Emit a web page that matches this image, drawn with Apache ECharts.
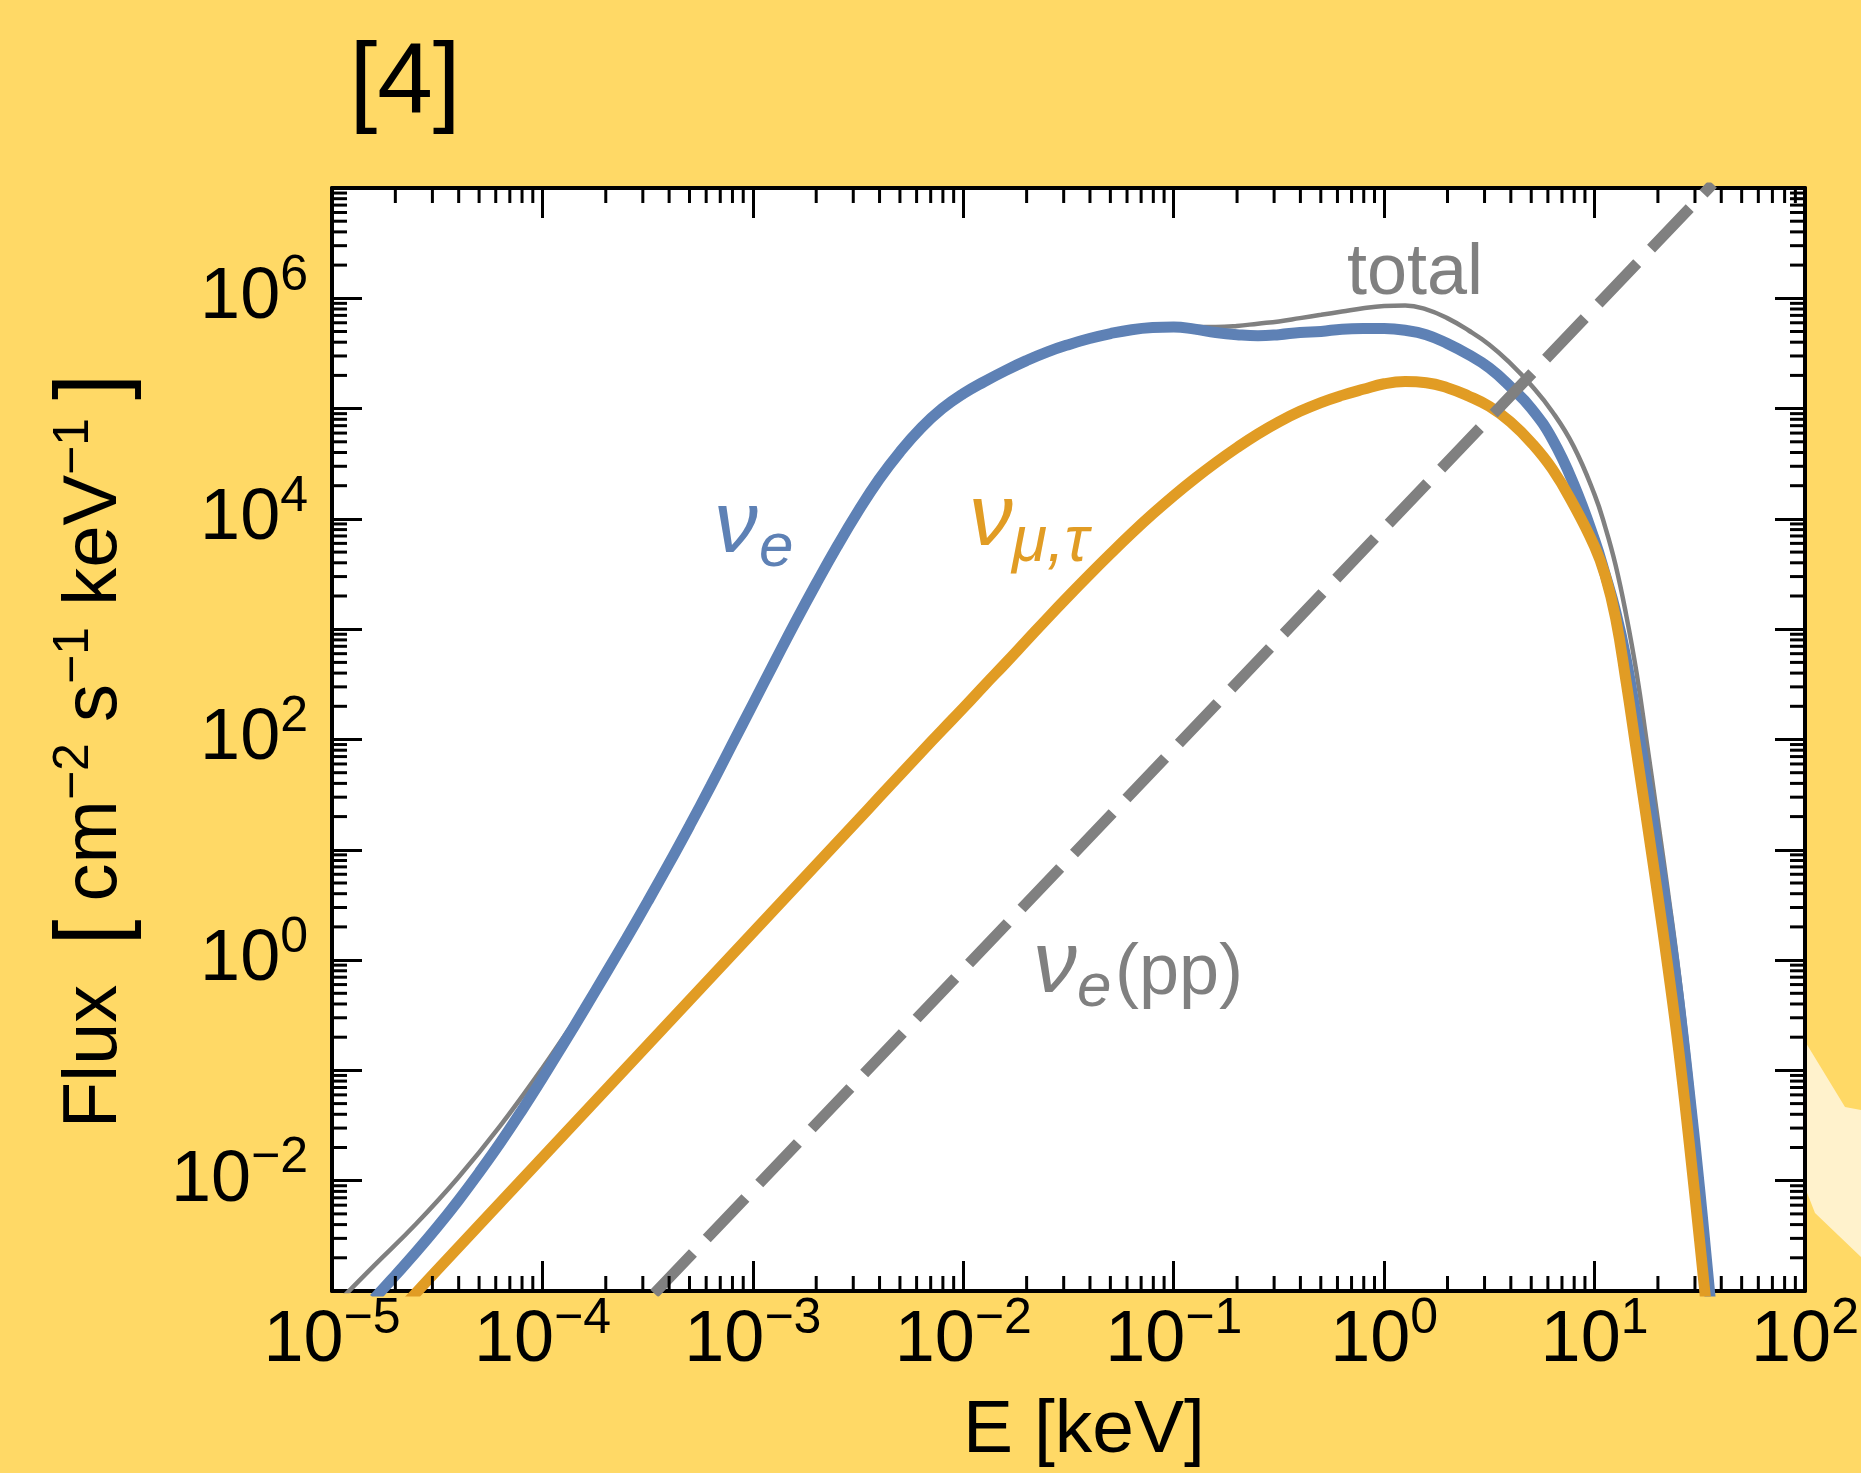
<!DOCTYPE html>
<html>
<head>
<meta charset="utf-8">
<script src="https://cdn.jsdelivr.net/npm/echarts@6/dist/echarts.min.js"></script>
<style>
html,body{margin:0;padding:0;background:#FFD966;}
#chart{width:1861px;height:1473px;}
</style>
</head>
<body>
<div id="chart"></div>
<script>
// ---- axis ranges ----
const E_MIN = 1e-5, E_MAX = 1e2;
const F_MIN = 1e-3, F_MAX = 1e7;

// ---- nu_e (blue) : E [keV], flux [cm^-2 s^-1 keV^-1] ----
const nueE = [1.585e-5,1.995e-5,2.512e-5,3.162e-5,3.981e-5,5.012e-5,6.310e-5,7.943e-5,1.0e-4,1.259e-4,1.585e-4,1.995e-4,2.512e-4,3.162e-4,3.981e-4,5.012e-4,6.310e-4,7.943e-4,1.0e-3,1.259e-3,1.585e-3,1.995e-3,2.512e-3,3.162e-3,3.981e-3,5.012e-3,6.310e-3,7.943e-3,1.0e-2,1.259e-2,1.585e-2,1.995e-2,2.512e-2,3.162e-2,3.981e-2,5.012e-2,6.310e-2,7.943e-2,0.1,0.1259,0.1585,0.1995,0.2512,0.3162,0.3981,0.5012,0.6310,0.7943,1.0,1.259,1.585,1.995,2.512,3.162,3.981,5.012,6.310,7.943,10,11.22,12.59,14.13,15.85,17.78,19.95,22.39,25.12,28.18,31.62,35.48];
const nueF = [8.51e-4,1.38e-3,2.26e-3,3.80e-3,6.61e-3,1.19e-2,2.21e-2,4.27e-2,8.51e-2,0.174,0.359,0.750,1.58,3.39,7.41,16.6,38.0,89.1,209,490,1140,2570,5620,1.17e4,2.29e4,4.07e4,6.68e4,1.0e5,1.365e5,1.758e5,2.213e5,2.723e5,3.27e5,3.80e5,4.32e5,4.79e5,5.19e5,5.43e5,5.50e5,5.25e5,4.90e5,4.68e5,4.57e5,4.68e5,4.90e5,5.01e5,5.25e5,5.31e5,5.31e5,5.13e5,4.68e5,3.89e5,3.09e5,2.34e5,1.58e5,1.0e5,5.25e4,2.09e4,6460,3160,1450,537,148,38.9,9.77,2.29,0.437,6.46e-2,8.13e-3,8.32e-4];

// ---- nu_mu,tau (orange) ----
const numtE = [2.239e-5,3.162e-5,1.0e-4,3.162e-4,1.0e-3,3.162e-3,3.981e-3,5.012e-3,6.310e-3,7.943e-3,1.0e-2,1.259e-2,1.585e-2,1.995e-2,2.512e-2,3.162e-2,3.981e-2,5.012e-2,6.310e-2,7.943e-2,0.1,0.1259,0.1585,0.1995,0.2512,0.3162,0.3981,0.5012,0.6310,0.7943,1.0,1.259,1.585,1.995,2.512,3.162,3.981,5.012,6.310,7.943,10,11.22,12.59,14.13,15.85,17.78,19.95,22.39,25.12,28.18,31.62,33.88];
const numtF = [7.59e-4,1.55e-3,1.62e-2,0.170,1.78,18.6,29.9,47.9,76.7,122,193,309,490,785,1259,1995,3126,4842,7413,1.109e4,1.622e4,2.317e4,3.236e4,4.416e4,5.888e4,7.586e4,9.441e4,1.135e5,1.318e5,1.496e5,1.679e5,1.758e5,1.718e5,1.549e5,1.303e5,1.047e5,7.586e4,4.898e4,2.818e4,1.349e4,5623,3090,1259,331,75.9,17.4,3.89,0.813,0.151,2.19e-2,2.75e-3,7.59e-4];

// ---- total (thin gray) ----
const totE = [1.122e-5,1.585e-5,2.512e-5,3.981e-5,6.310e-5,1.0e-4,1.259e-4,1.585e-4,1.995e-4,2.512e-4,3.981e-4,6.310e-4,1.0e-3,1.585e-3,2.512e-3,3.981e-3,6.310e-3,1.0e-2,1.585e-2,2.512e-2,3.981e-2,6.310e-2,0.1,0.1259,0.1585,0.1995,0.2512,0.3162,0.3981,0.5012,0.6310,0.7943,1.0,1.259,1.585,1.995,2.512,3.162,3.981,5.012,6.310,7.943,10,11.22,12.59,14.13,15.85,17.78,19.95,22.39,25.12,28.18,31.62,36.31];
const totF = [8.71e-4,1.70e-3,4.07e-3,1.07e-2,3.16e-2,0.105,0.200,0.380,0.776,1.62,7.59,39.8,214,1170,5750,2.34e4,6.83e4,1.40e5,2.26e5,3.35e5,4.37e5,5.30e5,5.62e5,5.50e5,5.50e5,5.62e5,5.89e5,6.17e5,6.61e5,7.08e5,7.59e5,8.13e5,8.51e5,8.61e5,7.94e5,6.61e5,5.13e5,3.80e5,2.57e5,1.62e5,9.33e4,4.57e4,1.66e4,8510,3800,1349,398,89.1,19.1,3.98,0.759,0.110,1.26e-2,7.08e-4];

// ---- nu_e (pp) dashed gray ----
const ppE = [3.4e-4,1e-3,1e-2,0.1,1,10,36.5];
const ppF = [9.5e-4,8.2e-3,0.82,82,8.2e3,8.2e5,1.09e7];

const pair = (xs, ys) => xs.map((x, i) => [x, ys[i]]);

// minor tick values (axis decoration, 2..9 per decade)
const xMinor = [], yMinor = [];
for (let p = -5; p < 2; p++) for (let k = 2; k <= 9; k++) xMinor.push(k * Math.pow(10, p));
for (let p = -3; p < 7; p++) for (let k = 2; k <= 9; k++) yMinor.push(k * Math.pow(10, p));

const FONT = '"Liberation Sans", Arial, Helvetica, sans-serif';
const BLUE = '#5E81B5', ORANGE = '#E19C24', GRAY = '#808080';

function supLabel(v, skipOdd) {
  const e = Math.round(Math.log10(v));
  if (skipOdd && Math.abs(e) % 2 === 1) return '';
  const s = e < 0 ? '\u2212' + (-e) : String(e);
  return '{b|10}{s|' + s + '}';
}
const labelRich = {
  b: { fontSize: 72, fontFamily: FONT, color: '#000' },
  s: { fontSize: 50, fontFamily: FONT, color: '#000', padding: [0, 0, 44, 0] }
};

function axisCommon(extra) {
  return Object.assign({
    type: 'log', logBase: 10, interval: 1,
    splitLine: { show: false }, minorTick: { show: false }, minorSplitLine: { show: false },
    axisLine: { show: true, onZero: false, lineStyle: { color: '#000', width: 4 } },
    axisTick: { show: true, inside: true, length: 30, lineStyle: { color: '#000', width: 3 } }
  }, extra);
}

function tickItem(a, b) {
  return { type: 'line', shape: { x1: a[0], y1: a[1], x2: b[0], y2: b[1] }, style: { stroke: '#000', lineWidth: 3 } };
}

const chart = echarts.init(document.getElementById('chart'), null, { renderer: 'canvas' });

const option = {
  backgroundColor: '#FFD966',
  animation: false,
  grid: { left: 332, right: 56, top: 188, bottom: 182, containLabel: false, outerBoundsMode: 'none',
          show: true, backgroundColor: '#FFFFFF', borderWidth: 0 },
  xAxis: [
    axisCommon({ min: E_MIN, max: E_MAX, splitNumber: 7, position: 'bottom',
      axisLabel: { show: true, interval: 0, margin: 50, verticalAlign: 'middle', formatter: v => supLabel(v, false), rich: labelRich, hideOverlap: false } }),
    axisCommon({ min: E_MIN, max: E_MAX, splitNumber: 7, position: 'top', axisLabel: { show: false } })
  ],
  yAxis: [
    axisCommon({ min: F_MIN, max: F_MAX, splitNumber: 10, position: 'left',
      axisLabel: { show: true, interval: 0, margin: 24, formatter: v => supLabel(v, true), rich: labelRich, hideOverlap: false } }),
    axisCommon({ min: F_MIN, max: F_MAX, splitNumber: 10, position: 'right', axisLabel: { show: false } })
  ],
  series: [
    { name: 'total', type: 'line', data: pair(totE, totF), showSymbol: false, symbol: 'none', smooth: 0.45, z: 2,
      lineStyle: { color: GRAY, width: 4.5 } },
    { name: 'nu_e', type: 'line', data: pair(nueE, nueF), showSymbol: false, symbol: 'none', smooth: 0.45, z: 3,
      lineStyle: { color: BLUE, width: 11 } },
    { name: 'nu_mu_tau', type: 'line', data: pair(numtE, numtF), showSymbol: false, symbol: 'none', smooth: 0.45, z: 4,
      lineStyle: { color: ORANGE, width: 11 } },
    { name: 'nu_e_pp', type: 'line', data: pair(ppE, ppF), showSymbol: false, symbol: 'none', z: 5,
      lineStyle: { color: GRAY, width: 11, type: [56, 20], cap: 'butt' } },
    { name: 'xminor', type: 'custom', coordinateSystem: 'cartesian2d', silent: true, clip: false, z: 6,
      data: xMinor.map(v => [v, F_MIN]),
      renderItem: (p, api) => {
        const v = api.value(0);
        const b = api.coord([v, F_MIN]), t = api.coord([v, F_MAX]);
        return { type: 'group', children: [
          tickItem(b, [b[0], b[1] - 15]), tickItem(t, [t[0], t[1] + 15]) ] };
      } },
    { name: 'yminor', type: 'custom', coordinateSystem: 'cartesian2d', silent: true, clip: false, z: 6,
      data: yMinor.map(v => [E_MIN, v]),
      renderItem: (p, api) => {
        const v = api.value(1);
        const l = api.coord([E_MIN, v]), r = api.coord([E_MAX, v]);
        return { type: 'group', children: [
          tickItem(l, [l[0] + 15, l[1]]), tickItem(r, [r[0] - 15, r[1]]) ] };
      } }
  ],
  graphic: [
    { type: 'polygon', z: -10, silent: true,
      shape: { points: [[1806,1043],[1845,1107],[1861,1110],[1861,1257],[1815,1213],[1806,1190]] },
      style: { fill: '#FFF2CC' } },
    { type: 'text', z: 100, x: 405, y: 85,
      style: { text: '[4]', fontSize: 100, fontFamily: FONT, fill: '#000', align: 'center', verticalAlign: 'middle' } },
    { type: 'text', z: 100, x: 1084, y: 1431,
      style: { text: 'E [keV]', fontSize: 75, fontFamily: FONT, fill: '#000', align: 'center', verticalAlign: 'middle' } },
    { type: 'text', z: 100, x: 95, y: 742, rotation: Math.PI / 2,
      style: { text: 'Flux {k|[}cm{s|\u22122} s{s|\u22121} keV{s|\u22121}{k|]}', fontSize: 76, fontFamily: FONT, fill: '#000',
        align: 'center', verticalAlign: 'middle',
        rich: { k: { fontSize: 94, fontFamily: FONT, fill: '#000', padding: [0, 18, 0, 18] },
                s: { fontSize: 50, fontFamily: FONT, fill: '#000', padding: [0, 0, 42, 0] } } } },
    { type: 'text', z: 100, x: 1347, y: 274,
      style: { text: 'total', fontSize: 72, fontFamily: FONT, fill: GRAY, align: 'left', verticalAlign: 'middle' } },
    // nu_e (blue)
    { type: 'text', z: 100, x: 714, y: 528,
      style: { text: '\u03BD', fontSize: 88, fontStyle: 'italic', fontFamily: FONT, fill: BLUE, align: 'left', verticalAlign: 'middle' } },
    { type: 'text', z: 100, x: 759, y: 549,
      style: { text: 'e', fontSize: 62, fontStyle: 'italic', fontFamily: FONT, fill: BLUE, align: 'left', verticalAlign: 'middle' } },
    // nu_mu,tau (orange)
    { type: 'text', z: 100, x: 969, y: 521,
      style: { text: '\u03BD', fontSize: 88, fontStyle: 'italic', fontFamily: FONT, fill: ORANGE, align: 'left', verticalAlign: 'middle' } },
    { type: 'text', z: 100, x: 1012, y: 543,
      style: { text: '\u03BC,\u03C4', fontSize: 64, fontStyle: 'italic', fontFamily: FONT, fill: ORANGE, align: 'left', verticalAlign: 'middle' } },
    // nu_e(pp) (gray)
    { type: 'text', z: 100, x: 1033, y: 968,
      style: { text: '\u03BD', fontSize: 88, fontStyle: 'italic', fontFamily: FONT, fill: GRAY, align: 'left', verticalAlign: 'middle' } },
    { type: 'text', z: 100, x: 1077, y: 989,
      style: { text: 'e', fontSize: 62, fontStyle: 'italic', fontFamily: FONT, fill: GRAY, align: 'left', verticalAlign: 'middle' } },
    { type: 'text', z: 100, x: 1115, y: 974,
      style: { text: '(pp)', fontSize: 72, fontFamily: FONT, fill: GRAY, align: 'left', verticalAlign: 'middle' } }
  ]
};
chart.setOption(option);
</script>
</body>
</html>
